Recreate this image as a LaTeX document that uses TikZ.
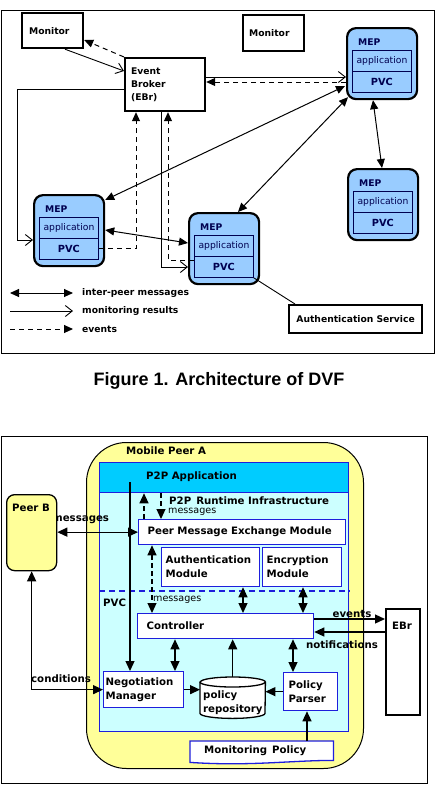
\documentclass[tikz,border=0pt]{standalone}
\usepackage{fontspec}
\newfontfamily\dv{DejaVu Sans}
\newfontfamily\lib{Liberation Sans}
\usetikzlibrary{arrows.meta,calc}
\definecolor{mepblue}{HTML}{99CCFF}
\definecolor{navy}{HTML}{000050}
\definecolor{bblue}{HTML}{1E1EDC}
\definecolor{lcyan}{HTML}{CCFFFF}
\definecolor{hcyan}{HTML}{00CCFF}
\definecolor{lyel}{HTML}{FFFF99}
\newcommand\mepbox[3]{%
  \node[mepouter, anchor=north west] (#1) at (#2,#3) {};
  \node[meptext, anchor=west] (#1t) at ($(#1.north west)+(12,15)$) {MEP};
  \node[mepinner, anchor=north west] (#1app) at ($(#1.north west)+(6,23)$) {application};
  \node[mepinner, anchor=north west, font=\dv\bfseries\fontsize{9.8}{11}\selectfont] (#1pvc) at ($(#1.north west)+(6,44)$) {PVC};
}
\begin{document}
\begin{tikzpicture}[x=1pt,y=-1pt,
  tlab/.style={font=\dv\bfseries\fontsize{9.2}{13}\selectfont},
  blab/.style={font=\dv\bfseries\fontsize{10.2}{14}\selectfont},
  bsm/.style={font=\dv\fontsize{9.6}{11}\selectfont},
  tbox/.style={draw, line width=2.2pt, fill=white, inner xsep=6pt, inner ysep=0pt, align=left, anchor=north west, tlab},
  mepouter/.style={draw, line width=2.2pt, fill=mepblue, rounded corners=9pt, minimum width=70pt, minimum height=71pt, inner sep=0pt},
  meptext/.style={font=\dv\bfseries\fontsize{9.2}{11}\selectfont, text=navy, inner sep=0pt},
  mepinner/.style={draw=navy, line width=0.9pt, minimum width=59pt, minimum height=21pt, inner sep=0pt, text=navy, font=\dv\fontsize{9.2}{10}\selectfont},
  ip/.style={line width=1pt, {Triangle[length=9pt,width=8pt]}-{Triangle[length=9pt,width=8pt]}},
  mon/.style={line width=0.9pt, -{Straight Barb[length=7pt,width=11pt]}},
  ev/.style={line width=1pt, dash pattern=on 5pt off 4pt, -{Triangle[length=9pt,width=8pt]}},
  bbox/.style={draw=bblue, fill=white, line width=1.3pt, inner ysep=0pt, align=left, anchor=north west, blab},
  bip/.style={line width=1.3pt, {Triangle[length=10pt,width=9pt]}-{Triangle[length=10pt,width=9pt]}},
  barr/.style={line width=1.3pt, -{Triangle[length=10pt,width=9pt]}},
  bev/.style={line width=1.1pt, dash pattern=on 5pt off 3pt, -{Triangle[length=10pt,width=9pt]}},
  bevb/.style={line width=1.1pt, dash pattern=on 5pt off 3pt, {Triangle[length=10pt,width=9pt]}-{Triangle[length=10pt,width=9pt]}}
]
\useasboundingbox (0,0) rectangle (436,788);
\fill[white] (0,0) rectangle (436,788);

% ================= Figure 1 =================
\node[draw, line width=1.3pt, minimum width=433pt, minimum height=343pt, inner sep=0pt, anchor=north west] (frame1) at (1,10) {};

\node[tbox, minimum width=61pt, minimum height=35pt, text width=47pt, inner xsep=7pt] (mon1) at (21,12) {Monitor};
\node[tbox, minimum width=61pt, minimum height=36pt, text width=49pt] (mon2) at (242,14) {Monitor};
\node[tbox, minimum width=80pt, minimum height=53pt, text width=68pt] (ebr) at (124,57) {Event\\Broker\\(EBr)};
\node[tbox, minimum width=133pt, minimum height=28pt, text width=127pt, inner xsep=3pt, align=center] (auth) at (288,304) {Authentication Service};

\mepbox{mep1}{346}{27}
\mepbox{mep2}{347}{168}
\mepbox{mep3}{33}{194}
\mepbox{mep4}{188}{212}

% connectors
\draw[mon] ($(mon1.south west)+(44,0)$) -- ($(ebr.north west)+(0,14)$);
\draw[ev] (ebr.north west) -- ($(mon1.north east)+(0,28)$);
\coordinate (k1) at (17,89);
\draw[mon] (ebr.west |- k1) -- (k1) |- ($(mep3.north west)+(0,46)$);
\coordinate (p4) at ($(mep1.north west)+(0,55)$);
\draw[ev] (p4) -- (ebr.east |- p4);
\coordinate (p5) at ($(ebr.north east)+(0,20)$);
\draw[mon] (p5) -- (mep1.west |- p5);
\draw[ip] ($(mep1.north west)+(-1,59)$) -- ($(mep3.north east)+(0,6)$);
\draw[ip] ($(mep1.south west)+(2,-3)$) -- ($(mep4.north west)+(50,0)$);
\draw[ip] ($(mep1.south west)+(27,0)$) -- ($(mep2.north west)+(35,0)$);
\draw[ip] ($(mep3.north east)+(0,36)$) -- ($(mep4.north west)+(0,31)$);
\draw[ev] (mep3pvc.east) -| ($(ebr.south west)+(12,0)$);
\draw[ev] ($(mep4pvc.north west)+(0,4)$) -| ($(ebr.south west)+(44,0)$);
\draw[mon] ($(ebr.south west)+(37,0)$) |- ($(mep4.north west)+(0,55)$);
\draw[line width=0.9pt] (mep4pvc.south east) -- ($(auth.north west)+(7,0)$);

% legend
\coordinate (la1) at (10,293); \coordinate (lb1) at (73,293);
\coordinate (la2) at (10,311); \coordinate (lb2) at (73,311);
\coordinate (la3) at (10,329); \coordinate (lb3) at (73,329);
\draw[ip] (la1) -- (lb1);
\draw[mon] (la2) -- (lb2);
\draw[ev] (la3) -- (lb3);
\node[tlab, anchor=west, inner sep=0pt] (lt1) at (82,293) {inter-peer messages};
\node[tlab, anchor=west, inner sep=0pt] (lt2) at (82,311) {monitoring results};
\node[tlab, anchor=west, inner sep=0pt] (lt3) at (82,329) {events};

% caption
\node[font=\lib\bfseries\fontsize{18}{20}\selectfont, anchor=base, inner sep=0pt] (cap) at (219,385) {Figure 1. Architecture of DVF};

% ================= Figure 2 =================
\node[draw, line width=1.3pt, minimum width=426pt, minimum height=347pt, inner sep=0pt, anchor=north west] (frame2) at (1,436) {};
\node[draw, line width=1pt, fill=lyel, rounded corners=40pt, minimum width=277pt, minimum height=326pt, inner sep=0pt, anchor=north west] (mpa) at (86,442) {};
\node[blab, anchor=west, inner sep=0pt] (mpat) at (126,451) {Mobile Peer A};

\node[draw=bblue, line width=1.3pt, fill=lcyan, minimum width=249pt, minimum height=269pt, inner sep=0pt, anchor=north west] (cyanb) at (99,462) {};
\node[draw=bblue, line width=1.3pt, fill=hcyan, minimum width=249pt, minimum height=30pt, inner sep=0pt, anchor=north west] (hdr) at (99,462) {};
\node[blab, anchor=west, inner sep=0pt] (hdrt) at (146,477) {P2P Application};
\node[blab, anchor=west, inner sep=0pt] (rti) at (169,501) {P2P\enspace Runtime Infrastructure};
\node[bsm, anchor=west, inner sep=0pt] (msg1) at (168,512) {messages};

\node[blab, anchor=west, inner sep=0pt] (msgL) at (52,520) {messages};
\node[draw, line width=1.3pt, fill=lyel, rounded corners=8pt, minimum width=50pt, minimum height=76pt, inner sep=0pt, anchor=north west] (peerB) at (6,494) {};
\node[blab, inner sep=0pt] (peerBt) at (31,508) {Peer B};

\node[bbox, minimum width=207pt, minimum height=25pt, inner xsep=9pt, text width=189pt] (pmem) at (138,519) {Peer Message Exchange Module};
\node[bbox, minimum width=98pt, minimum height=39pt, inner xsep=4pt, text width=90pt] (authm) at (161,547) {Authentication\\Module};
\node[bbox, minimum width=79pt, minimum height=39pt, inner xsep=4pt, text width=71pt] (encm) at (262,547) {Encryption\\Module};

\coordinate (pv1) at ($(cyanb.north west)+(0,129)$);
\coordinate (pv2) at ($(cyanb.north east)+(0,129)$);
\draw[bblue, line width=1.2pt, dash pattern=on 6pt off 4pt] (pv1) -- (pv2);
\node[blab, anchor=west, inner sep=0pt] (pvct) at (103,603) {PVC};
\node[bsm, anchor=west, inner sep=0pt] (msg2) at (153,600) {messages};

\node[bbox, minimum width=176pt, minimum height=25pt, inner xsep=9pt, text width=158pt] (ctrl) at (137,613) {Controller};
\node[bbox, minimum width=80pt, minimum height=36pt, inner xsep=2pt, text width=76pt] (nm) at (103,671) {Negotiation\\Manager};
\node[bbox, minimum width=54pt, minimum height=38pt, inner xsep=5pt, text width=44pt] (pp) at (283,672) {Policy\\Parser};

% policy repository (cylinder)
\node[minimum width=65pt, minimum height=41pt, inner sep=0pt, anchor=north west] (repo) at (200,677) {};
\draw[line width=1.3pt, fill=white] ($(repo.north west)+(0,5)$) -- ($(repo.south west)+(0,-5)$)
  arc[start angle=180, end angle=360, x radius=32.5pt, y radius=5pt]
  -- ($(repo.north east)+(0,5)$)
  arc[start angle=0, end angle=180, x radius=32.5pt, y radius=5pt] -- cycle;
\draw[line width=1.3pt] ($(repo.north west)+(0,5)$) arc[start angle=180, end angle=360, x radius=32.5pt, y radius=5pt];
\node[blab, anchor=west, align=left, inner sep=0pt] (repot) at ($(repo.west)+(3,5)$) {policy\\repository};

% monitoring policy (document shape)
\node[minimum width=143pt, minimum height=19pt, inner sep=0pt, anchor=north west] (monpolbox) at (190,741) {};
\draw[bblue, line width=1.3pt, fill=white] (monpolbox.north west) -- (monpolbox.north east) -- (monpolbox.south east)
  .. controls +(-43,0) and +(60,4) .. ($(monpolbox.south west)+(0,2)$) -- cycle;
\node[blab, anchor=west, inner sep=0pt] (monpol) at ($(monpolbox.west)+(14,0)$) {Monitoring\enspace Policy};

% EBr
\node[draw, line width=2.2pt, fill=white, minimum width=34pt, minimum height=106pt, inner sep=0pt, anchor=north west] (ebr2) at (385,608) {};
\node[blab, inner sep=0pt] (ebr2t) at (402,626) {EBr};

% connectors
\draw[bip] (peerB.east |- pmem.west) -- (pmem.west);
\coordinate (b1) at ($(hdr.north west)+(31,20)$);
\draw[barr] (b1) -- (b1 |- nm.north);
\coordinate (b2) at ($(pmem.north west)+(6,0)$);
\draw[bev] (b2) -- (b2 |- hdr.south);
\coordinate (b3) at ($(hdr.south west)+(62,0)$);
\draw[bev] (b3) -- (b3 |- pmem.north);
\coordinate (b4) at ($(pmem.south west)+(14,0)$);
\draw[bevb] (b4) -- (b4 |- ctrl.north);
\coordinate (b5) at ($(authm.south west)+(82,0)$);
\draw[bip] (b5) -- (b5 |- ctrl.north);
\coordinate (b6) at ($(encm.south west)+(41,0)$);
\draw[bip] (b6) -- (b6 |- ctrl.north);
\coordinate (b7) at ($(nm.north west)+(72,0)$);
\draw[bip] (b7 |- ctrl.south) -- (b7);
\draw[barr] (repo.north) -- (repo.north |- ctrl.south);
\draw[barr] (nm.east) -- (repo.west |- nm.east);
\draw[barr] (pp.west) -- (repo.east |- pp.west);
\coordinate (b8) at ($(pp.north west)+(10,0)$);
\draw[bip] (b8 |- ctrl.south) -- (b8);
\coordinate (b9) at ($(monpolbox.north west)+(117,0)$);
\draw[barr] (b9) -- (b9 |- pp.south);
\coordinate (b10) at ($(ctrl.north east)+(0,6)$);
\draw[barr] (b10) -- (b10 -| ebr2.west);
\node[blab, anchor=base, inner sep=0pt] (evt) at (352,617) {events};
\coordinate (b11) at ($(ctrl.north east)+(0,19)$);
\draw[barr] (b11 -| ebr2.west) -- (b11);
\node[blab, inner sep=0pt] (ntf) at (342,645) {notifications};
\draw[bip] (nm.west) -| (peerB.south);
\node[blab, anchor=west, inner sep=0pt] (cond) at (31,679) {conditions};
\end{tikzpicture}
\end{document}
